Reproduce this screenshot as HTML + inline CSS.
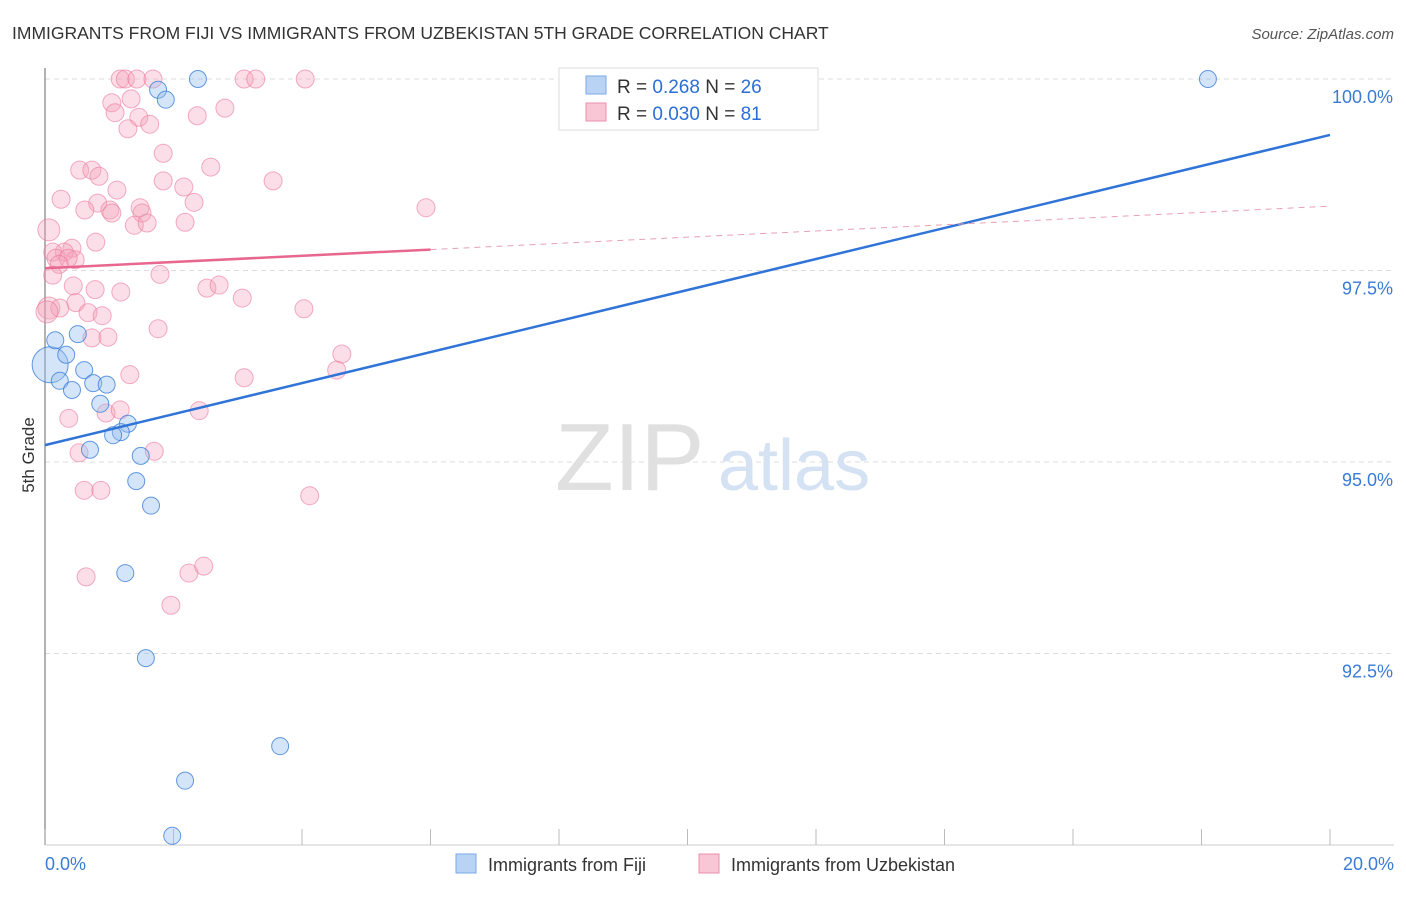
<!DOCTYPE html>
<html><head><meta charset="utf-8"><style>
body{margin:0;background:#fff;font-family:"Liberation Sans",sans-serif;}
svg text{font-family:"Liberation Sans",sans-serif;}
</style></head><body>
<svg id="chart" width="1406" height="892" viewBox="0 0 1406 892" xmlns="http://www.w3.org/2000/svg">
<text x="12" y="39" font-size="17.5" fill="#333">IMMIGRANTS FROM FIJI VS IMMIGRANTS FROM UZBEKISTAN 5TH GRADE CORRELATION CHART</text>
<text x="1394" y="39" font-size="15" fill="#555" font-style="italic" text-anchor="end">Source: ZipAtlas.com</text>
<g id="grid"></g>
<g id="xaxis"></g>
<g id="yaxis"></g>
<text x="0" y="0" transform="translate(34,455) rotate(-90)" font-size="17" fill="#333" text-anchor="middle">5th Grade</text>
<text x="555" y="490" font-size="96" fill="#e0e0e0" font-family="Liberation Serif,serif">ZIP</text>
<text x="718" y="490" font-size="72" fill="#d4e2f4">atlas</text>
<g id="points"></g>
<g id="lines"></g>
<g>
<rect x="559" y="68" width="259" height="62" fill="#fff" stroke="#ddd"/>
<rect x="586" y="76" width="20" height="18" fill="#b9d3f5" stroke="#7aa8e6"/>
<text x="617" y="93" font-size="19" fill="#333">R = <tspan fill="#2a6fd6">0.268</tspan>   N = <tspan fill="#2a6fd6">26</tspan></text>
<rect x="586" y="103" width="20" height="18" fill="#f8c6d4" stroke="#ec8fab"/>
<text x="617" y="120" font-size="19" fill="#333">R = <tspan fill="#2a6fd6">0.030</tspan>   N = <tspan fill="#2a6fd6"> 81</tspan></text>
</g>
<g>
<rect x="456" y="854" width="20" height="19" fill="#b9d3f5" stroke="#7aa8e6"/>
<text x="488" y="871" font-size="18" fill="#333">Immigrants from Fiji</text>
<rect x="699" y="854" width="20" height="19" fill="#f8c6d4" stroke="#ec8fab"/>
<text x="731" y="871" font-size="18" fill="#333">Immigrants from Uzbekistan</text>
</g>
</svg>
<script>
const xTicks=[0,2,4,6,8,10,12,14,16,18,20];
const yTicks=[100,97.5,95,92.5];
const yTickLabels=["100.0%","97.5%","95.0%","92.5%"];
const xTickLabels=["0.0%","20.0%"];
const fijiX=[0.08,0.16,0.33,0.23,0.42,0.51,0.61,0.75,0.96,0.86,1.29,1.18,1.06,0.70,1.49,1.42,1.65,1.25,1.57,1.76,1.88,2.38,3.66,2.18,1.98,18.10];
const fijiY=[96.27,96.59,96.40,96.06,95.94,96.67,96.20,96.03,96.01,95.76,95.50,95.39,95.35,95.16,95.08,94.75,94.43,93.55,92.44,99.86,99.73,100,91.29,90.84,90.12,100];
const uzX=[1.17,1.25,1.43,1.68,3.10,3.28,4.05,1.04,1.34,1.09,1.46,1.63,1.29,2.37,2.80,1.84,2.58,0.54,0.73,0.84,3.55,1.84,2.16,1.12,0.25,0.82,0.62,1.01,1.48,2.32,5.93,1.04,1.51,1.39,1.59,2.18,0.06,0.79,0.42,0.30,0.12,0.17,0.47,0.36,0.22,0.12,1.79,0.78,1.18,0.44,2.52,2.71,3.07,0.48,0.06,0.23,0.03,0.67,0.89,4.03,1.76,0.73,0.98,4.62,4.54,1.32,3.10,0.37,0.95,1.17,2.40,0.53,1.70,0.61,0.87,4.12,0.64,2.24,2.47,1.96];
const uzY=[100,100,100,100,100,100,100,99.69,99.74,99.56,99.50,99.41,99.35,99.52,99.62,99.03,98.85,98.81,98.81,98.73,98.67,98.67,98.59,98.55,98.43,98.38,98.29,98.29,98.32,98.39,98.32,98.25,98.25,98.09,98.12,98.13,98.03,97.87,97.79,97.74,97.74,97.66,97.64,97.66,97.58,97.44,97.45,97.25,97.22,97.30,97.27,97.31,97.14,97.08,97.01,97.01,96.96,96.95,96.91,97.00,96.74,96.62,96.63,96.41,96.20,96.14,96.10,95.57,95.64,95.68,95.67,95.12,95.14,94.63,94.63,94.56,93.50,93.55,93.64,93.13];
const fijiTrend=[95.22,99.27];
const uzTrend=[97.53,98.34];
const uzSolidEnd=6;

const NS="http://www.w3.org/2000/svg";
const X=v=>45+v/20*1285;
const Y=v=>79+(100-v)/2.5*191.5;
function mk(tag,attrs,parent){const e=document.createElementNS(NS,tag);for(const k in attrs)e.setAttribute(k,attrs[k]);parent.appendChild(e);return e;}
const grid=document.getElementById('grid'),xa=document.getElementById('xaxis'),ya=document.getElementById('yaxis');
yTicks.forEach((t,i)=>{
  const l=mk('line',{x1:45,x2:1394,y1:Y(t),y2:Y(t),stroke:'#ddd','stroke-dasharray':'5,4'},grid);
  
  
  const tx=mk('text',{x:1393,y:Y(t)+24,'font-size':18,fill:'#3a7bd5','text-anchor':'end'},ya);
  tx.textContent=yTickLabels[i];
  
  
});
const axl=mk('line',{x1:45,x2:45,y1:68,y2:845,stroke:'#999','stroke-width':1.5},xa);


const bx=mk('line',{x1:45,x2:1394,y1:845,y2:845,stroke:'#ccc'},xa);


xTicks.forEach(t=>{
  const l=mk('line',{x1:X(t),x2:X(t),y1:829,y2:845,stroke:'#bbb'},xa);
  
  
});
[[0,'start',45],[20,'end',1394]].forEach((a,i)=>{
  const tx=mk('text',{x:a[2],y:870,'font-size':18,fill:'#3a7bd5','text-anchor':a[1]},xa);
  tx.textContent=xTickLabels[i];
  
  
});
const pts=document.getElementById('points');
uzX.forEach((v,i)=>{
  const big=v<0.1;
  const c=mk('circle',{cx:X(v),cy:Y(uzY[i]),r:big?11:9,fill:'rgba(244,160,186,0.35)',stroke:'rgba(236,120,155,0.6)','stroke-width':1},pts);
  
  
});
fijiX.forEach((v,i)=>{
  const big=v<0.1;
  const c=mk('circle',{cx:X(v),cy:Y(fijiY[i]),r:big?18:8.5,fill:'rgba(150,190,240,0.4)',stroke:'rgba(50,120,215,0.75)','stroke-width':1},pts);
  
  
});
const ln=document.getElementById('lines');
const b=mk('line',{x1:X(0),y1:Y(fijiTrend[0]),x2:X(20),y2:Y(fijiTrend[1]),stroke:'#2f74d6','stroke-width':2.5},ln);


const um=uzTrend[0]+(uzTrend[1]-uzTrend[0])*uzSolidEnd/20;
const p1=mk('line',{x1:X(0),y1:Y(uzTrend[0]),x2:X(uzSolidEnd),y2:Y(um),stroke:'#e8678f','stroke-width':2.5},ln);


const p2=mk('line',{x1:X(uzSolidEnd),y1:Y(um),x2:X(20),y2:Y(uzTrend[1]),stroke:'#e8a0b5','stroke-width':1,'stroke-dasharray':'6,5'},ln);


</script>
</body></html>
